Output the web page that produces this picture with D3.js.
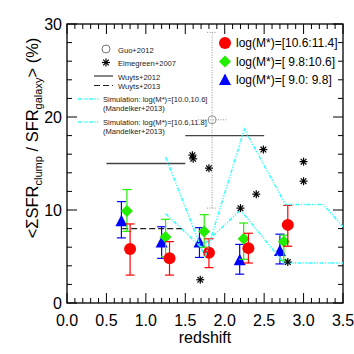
<!DOCTYPE html>
<html>
<head>
<meta charset="utf-8">
<script src="https://cdn.jsdelivr.net/npm/d3@7"></script>
<style>
  body { margin: 0; background: #fff; }
  svg { font-family: "Liberation Sans", Arial, sans-serif; }
</style>
</head>
<body>
<svg id="chart" width="354" height="354"></svg>
<script>
// mass bins (offset in redshift so they don't overlap)
const redZ = [0.80, 1.30, 1.80, 2.30, 2.80];
const redV = [5.8, 4.8, 5.4, 5.9, 8.4];
const redLo = [3.0, 3.0, 3.8, 4.3, 6.1];
const redHi = [8.5, 6.6, 6.9, 7.5, 10.5];

const greenZ = [0.76, 1.25, 1.74, 2.24, 2.75];
const greenV = [9.9, 7.1, 7.7, 6.9, 6.6];
const greenLo = [7.7, 5.0, 6.0, 4.7, 4.6];
const greenHi = [12.2, 9.0, 9.5, 8.6, 7.3];

const blueZ = [0.69, 1.20, 1.68, 2.19, 2.70];
const blueV = [8.8, 6.5, 6.5, 4.6, 5.6];
const blueLo = [7.0, 4.8, 4.9, 3.1, 4.2];
const blueHi = [10.9, 8.2, 8.1, 6.3, 7.4];

// Elmegreen+2007
const elmZ = [1.59, 1.60, 1.80, 1.69, 2.20, 2.40, 2.49, 3.00, 3.00, 2.80];
const elmV = [15.9, 15.5, 14.5, 2.5, 10.2, 11.7, 16.5, 15.2, 13.1, 4.4];

// Guo+2012
const guo = { z: 1.84, v: 19.7, zLo: 1.66, zHi: 2.02, vLo: 10.2, vHi: 29.1 };

// Wuyts
const wuyts2012 = [[0.5, 1.5, 15.0], [1.5, 2.5, 18.0]];
const wuyts2013 = [[0.7, 1.5, 8.0]];

// Mandelker+2013 simulations
const sim1Z = [1.25, 1.70, 2.20, 2.75, 3.50];
const sim1V = [9.6, 6.0, 10.0, 4.3, 4.3];
const sim2Z = [1.25, 1.75, 2.25, 2.77, 3.25, 3.50];
const sim2V = [15.7, 4.9, 18.7, 10.6, 10.6, 8.2];

const xTicks = [0, 0.5, 1, 1.5, 2, 2.5, 3, 3.5];
const yTicks = [0, 10, 20, 30];

const svg = d3.select("#chart");
const margin = { top: 24, right: 11, bottom: 51, left: 67 };
const width = 354, height = 354;

const x = d3.scaleLinear().domain([0, 3.5]).range([margin.left, width - margin.right]);
const y = d3.scaleLinear().domain([0, 30]).range([height - margin.bottom, margin.top]);

const cRed = "#ff0000", cGreen = "#22ee00", cBlue = "#0000ff", cCyan = "#33ffff";

// frame + inward ticks
const frame = svg.append("g");
frame.append("rect")
  .attr("x", x(0)).attr("y", y(30))
  .attr("width", x(3.5) - x(0)).attr("height", y(0) - y(30))
  .attr("fill", "none").attr("stroke", "#000").attr("stroke-width", 1.3);

const xMinor = d3.range(0, 36).map(i => i / 10);
xMinor.forEach(t => {
  const major = Math.abs(t * 2 - Math.round(t * 2)) < 1e-6;
  const len = major ? 10 : 5;
  frame.append("line").attr("x1", x(t)).attr("x2", x(t))
    .attr("y1", y(0)).attr("y2", y(0) - len).attr("stroke", "#000");
  frame.append("line").attr("x1", x(t)).attr("x2", x(t))
    .attr("y1", y(30)).attr("y2", y(30) + len).attr("stroke", "#000");
});
d3.range(0, 31, 2).forEach(t => {
  const len = t % 10 === 0 ? 10 : 5;
  frame.append("line").attr("x1", x(0)).attr("x2", x(0) + len)
    .attr("y1", y(t)).attr("y2", y(t)).attr("stroke", "#000");
  frame.append("line").attr("x1", x(3.5)).attr("x2", x(3.5) - len)
    .attr("y1", y(t)).attr("y2", y(t)).attr("stroke", "#000");
});

svg.append("g").selectAll("text").data(xTicks).join("text")
  .attr("x", d => x(d)).attr("y", 326)
  .attr("text-anchor", "middle").attr("font-size", 16)
  .text(d => d3.format(".1f")(d));

svg.append("g").selectAll("text").data(yTicks).join("text")
  .attr("x", 62).attr("y", d => y(d) + 5.5)
  .attr("text-anchor", "end").attr("font-size", 16)
  .text(d => d);

svg.append("text").attr("x", x(1.75)).attr("y", 343)
  .attr("text-anchor", "middle").attr("font-size", 16).text("redshift");

const yl = svg.append("text")
  .attr("transform", "translate(38,138) rotate(-90)")
  .attr("text-anchor", "middle").attr("font-size", 16.5);
yl.append("tspan").text("<ΣSFR");
yl.append("tspan").attr("font-size", 11).attr("dy", 4).text("clump");
yl.append("tspan").attr("dy", -4).text(" / SFR");
yl.append("tspan").attr("font-size", 11).attr("dy", 4).text("galaxy");
yl.append("tspan").attr("dy", -4).text("> (%)");

// Wuyts lines
const wg = svg.append("g");
wuyts2012.forEach(s => wg.append("line")
  .attr("x1", x(s[0])).attr("x2", x(s[1])).attr("y1", y(s[2])).attr("y2", y(s[2]))
  .attr("stroke", "#444").attr("stroke-width", 1.3));
wuyts2013.forEach(s => wg.append("line")
  .attr("x1", x(s[0])).attr("x2", x(s[1])).attr("y1", y(s[2])).attr("y2", y(s[2]))
  .attr("stroke", "#222").attr("stroke-width", 1.3).attr("stroke-dasharray", "6,3"));

// Guo+2012
const gg = svg.append("g").attr("stroke", "#777").attr("fill", "none").attr("stroke-width", 0.8)
  .attr("stroke-dasharray", "1,1.5");
gg.append("line").attr("x1", x(guo.z)).attr("x2", x(guo.z)).attr("y1", y(guo.vLo)).attr("y2", y(guo.vHi));
gg.append("line").attr("x1", x(guo.zLo)).attr("x2", x(guo.zHi)).attr("y1", y(guo.v)).attr("y2", y(guo.v));
[guo.vLo, guo.vHi].forEach(v => gg.append("line")
  .attr("x1", x(guo.z) - 5).attr("x2", x(guo.z) + 5).attr("y1", y(v)).attr("y2", y(v)));
svg.append("circle").attr("cx", x(guo.z)).attr("cy", y(guo.v)).attr("r", 4)
  .attr("fill", "none").attr("stroke", "#777").attr("stroke-width", 0.8);

// mass bins
function errSeries(zs, vs, lo, hi, color, shape) {
  const g = svg.append("g");
  zs.forEach((z, i) => {
    const e = g.append("g").attr("stroke", color).attr("stroke-width", 1.2);
    e.append("line").attr("x1", x(z)).attr("x2", x(z)).attr("y1", y(lo[i])).attr("y2", y(hi[i]));
    [lo[i], hi[i]].forEach(v => e.append("line")
      .attr("x1", x(z) - 4.5).attr("x2", x(z) + 4.5).attr("y1", y(v)).attr("y2", y(v)));
  });
  g.selectAll("path.m").data(zs).join("path")
    .attr("class", "m")
    .attr("transform", (d, i) => `translate(${x(d)},${y(vs[i])})`)
    .attr("d", shape).attr("fill", color);
}
const triangle = "M0,-6.5L6,5L-6,5Z";
const diamond = "M0,-6L6,0L0,6L-6,0Z";
const circle = d3.symbol().type(d3.symbolCircle).size(Math.PI * 36)();
errSeries(blueZ, blueV, blueLo, blueHi, cBlue, triangle);
errSeries(greenZ, greenV, greenLo, greenHi, cGreen, diamond);
errSeries(redZ, redV, redLo, redHi, cRed, circle);

// simulation lines
const line = d3.line().x(d => x(d[0])).y(d => y(d[1]));
[[sim1Z, sim1V], [sim2Z, sim2V]].forEach(([zs, vs]) => {
  svg.append("path").datum(zs.map((z, i) => [z, vs[i]]))
    .attr("d", line).attr("fill", "none").attr("stroke", cCyan)
    .attr("stroke-width", 1.5).attr("stroke-dasharray", "4,1.5,1.2,1.5,1.2,1.5");
});

// Elmegreen asterisks
function star(g, cx, cy, r) {
  const a = g.append("g").attr("transform", `translate(${cx},${cy})`)
    .attr("stroke", "#000").attr("stroke-width", 1.2);
  [0, 45, 90, 135].forEach(ang => {
    const rad = ang * Math.PI / 180;
    a.append("line").attr("x1", -r * Math.cos(rad)).attr("y1", -r * Math.sin(rad))
      .attr("x2", r * Math.cos(rad)).attr("y2", r * Math.sin(rad));
  });
}
const eg = svg.append("g");
elmZ.forEach((z, i) => star(eg, x(z), y(elmV[i]), 4));

// left legend
const lg = svg.append("g").attr("font-size", 7.6).attr("fill", "#222");
lg.append("circle").attr("cx", 106).attr("cy", 49).attr("r", 4)
  .attr("fill", "none").attr("stroke", "#555").attr("stroke-width", 0.8);
lg.append("text").attr("x", 118).attr("y", 52.5).text("Guo+2012");
star(lg, 106, 62.5, 4);
lg.append("text").attr("x", 118).attr("y", 66).text("Elmegreen+2007");
lg.append("line").attr("x1", 94).attr("x2", 113).attr("y1", 76).attr("y2", 76)
  .attr("stroke", "#222").attr("stroke-width", 1.1);
lg.append("text").attr("x", 118).attr("y", 79.5).text("Wuyts+2012");
lg.append("line").attr("x1", 94).attr("x2", 113).attr("y1", 85.5).attr("y2", 85.5)
  .attr("stroke", "#222").attr("stroke-width", 1.1).attr("stroke-dasharray", "6,3");
lg.append("text").attr("x", 118).attr("y", 89).text("Wuyts+2013");
[[99, "[10.0,10.6]"], [122, "[10.6,11.8]"]].forEach(([yy, r]) => {
  lg.append("line").attr("x1", 78).attr("x2", 99).attr("y1", yy).attr("y2", yy)
    .attr("stroke", cCyan).attr("stroke-width", 1.5).attr("stroke-dasharray", "4,1.5,1.2,1.5,1.2,1.5");
  lg.append("text").attr("x", 103).attr("y", yy + 2.5).text("Simulation: log(M*)=" + r);
  lg.append("text").attr("x", 103).attr("y", yy + 11.5).text("(Mandelker+2013)");
});

// right legend
const rg = svg.append("g").attr("font-size", 12);
const rItems = [
  ["log(M*)=[10.6:11.4]", cRed, circle],
  ["log(M*)=[ 9.8:10.6]", cGreen, diamond],
  ["log(M*)=[ 9.0: 9.8]", cBlue, triangle]
];
rItems.forEach((d, i) => {
  const yy = 43 + i * 18.5;
  rg.append("path").attr("transform", `translate(225,${yy})`).attr("d", d[2]).attr("fill", d[1]);
  rg.append("text").attr("x", 236).attr("y", yy + 4.3)
    .style("white-space", "pre").attr("xml:space", "preserve").text(d[0]);
});
</script>
</body>
</html>
